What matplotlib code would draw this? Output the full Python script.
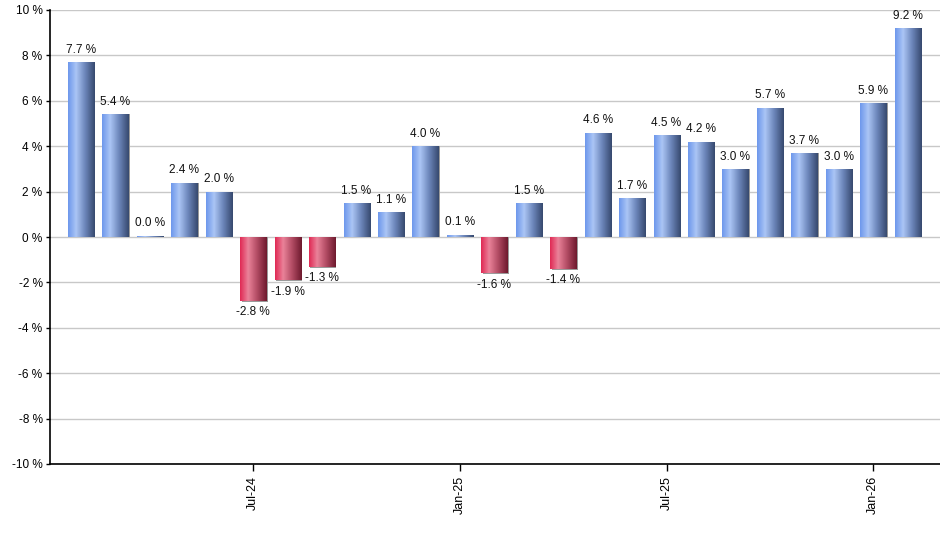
import numpy as np
import matplotlib.pyplot as plt
from matplotlib.colors import LinearSegmentedColormap
from matplotlib.patches import Rectangle

# monthly change, Feb-24 .. Feb-26
months = ["Feb-24", "Mar-24", "Apr-24", "May-24", "Jun-24", "Jul-24", "Aug-24",
          "Sep-24", "Oct-24", "Nov-24", "Dec-24", "Jan-25", "Feb-25", "Mar-25",
          "Apr-25", "May-25", "Jun-25", "Jul-25", "Aug-25", "Sep-25", "Oct-25",
          "Nov-25", "Dec-25", "Jan-26", "Feb-26"]
values = [7.7, 5.4, 0.0, 2.4, 2.0, -2.8, -1.9, -1.3, 1.5, 1.1, 4.0, 0.1, -1.6,
          1.5, -1.4, 4.6, 1.7, 4.5, 4.2, 3.0, 5.7, 3.7, 3.0, 5.9, 9.2]
shown_ticks = ["Jul-24", "Jan-25", "Jul-25", "Jan-26"]

plt.rcParams['font.family'] = ['Liberation Sans', 'DejaVu Sans']

blue = LinearSegmentedColormap.from_list(
    "blue", [(0, "#6e98ec"), (0.3, "#abc5f5"), (0.65, "#6a84b8"), (1, "#37496f")])
red = LinearSegmentedColormap.from_list(
    "red", [(0, "#e02a55"), (0.3, "#ea8299"), (0.65, "#b04a62"), (1, "#6e1a2e")])
grad = np.linspace(0, 1, 64).reshape(1, -1)

fig = plt.figure(figsize=(9.4, 5.5), dpi=100)
ax = fig.add_axes([49.5 / 940, 86 / 550, 1 - 49.5 / 940, 454 / 550])

width = 0.755
x = np.arange(len(values))
for i, v in enumerate(values):
    h = v if abs(v) > 0.05 else 0.06
    # little grey shadow
    ax.add_patch(Rectangle((i - width / 2 + 0.04, min(0, h) - (0.05 if h < 0 else 0)),
                           width, abs(h) + 0.05 if h < 0 else abs(h),
                           facecolor="#9a9a9a", edgecolor="none", zorder=2))
    rect = Rectangle((i - width / 2, min(0, h)), width, abs(h),
                     facecolor="none", edgecolor="none", zorder=3)
    ax.add_patch(rect)
    im = ax.imshow(grad, cmap=blue if v >= 0 else red, aspect="auto",
                   extent=(i - width / 2, i + width / 2, min(0, h), max(0, h)),
                   zorder=3, interpolation="bilinear")
    im.set_clip_path(rect)
    if v >= 0:
        ax.annotate(f"{v:.1f} %", (i, h), xytext=(0, 4.5), textcoords="offset points",
                    ha="center", va="bottom", fontsize=8.5, color="#111111")
    else:
        ax.annotate(f"{v:.1f} %", (i, h), xytext=(0, -4), textcoords="offset points",
                    ha="center", va="top", fontsize=8.5, color="#111111")

ax.set_xlim(-0.915, 24.94)
ax.set_ylim(-10, 10)
ax.set_yticks(range(-10, 11, 2))
ax.set_yticklabels([f"{t} %" for t in range(-10, 11, 2)], fontsize=8.5)
ax.grid(axis="y", color="#c8c8c8", linewidth=1)
ax.set_axisbelow(True)

tick_pos = [months.index(m) for m in shown_ticks]
ax.set_xticks(tick_pos)
ax.set_xticklabels(shown_ticks, rotation=90, fontsize=9)
ax.tick_params(axis="x", length=5, width=1)
ax.tick_params(axis="y", length=3, width=1, pad=2)

for s in ["top", "right"]:
    ax.spines[s].set_visible(False)
ax.spines["left"].set_linewidth(1.2)
ax.spines["bottom"].set_linewidth(1.2)

fig.savefig("out.png", dpi=100)
